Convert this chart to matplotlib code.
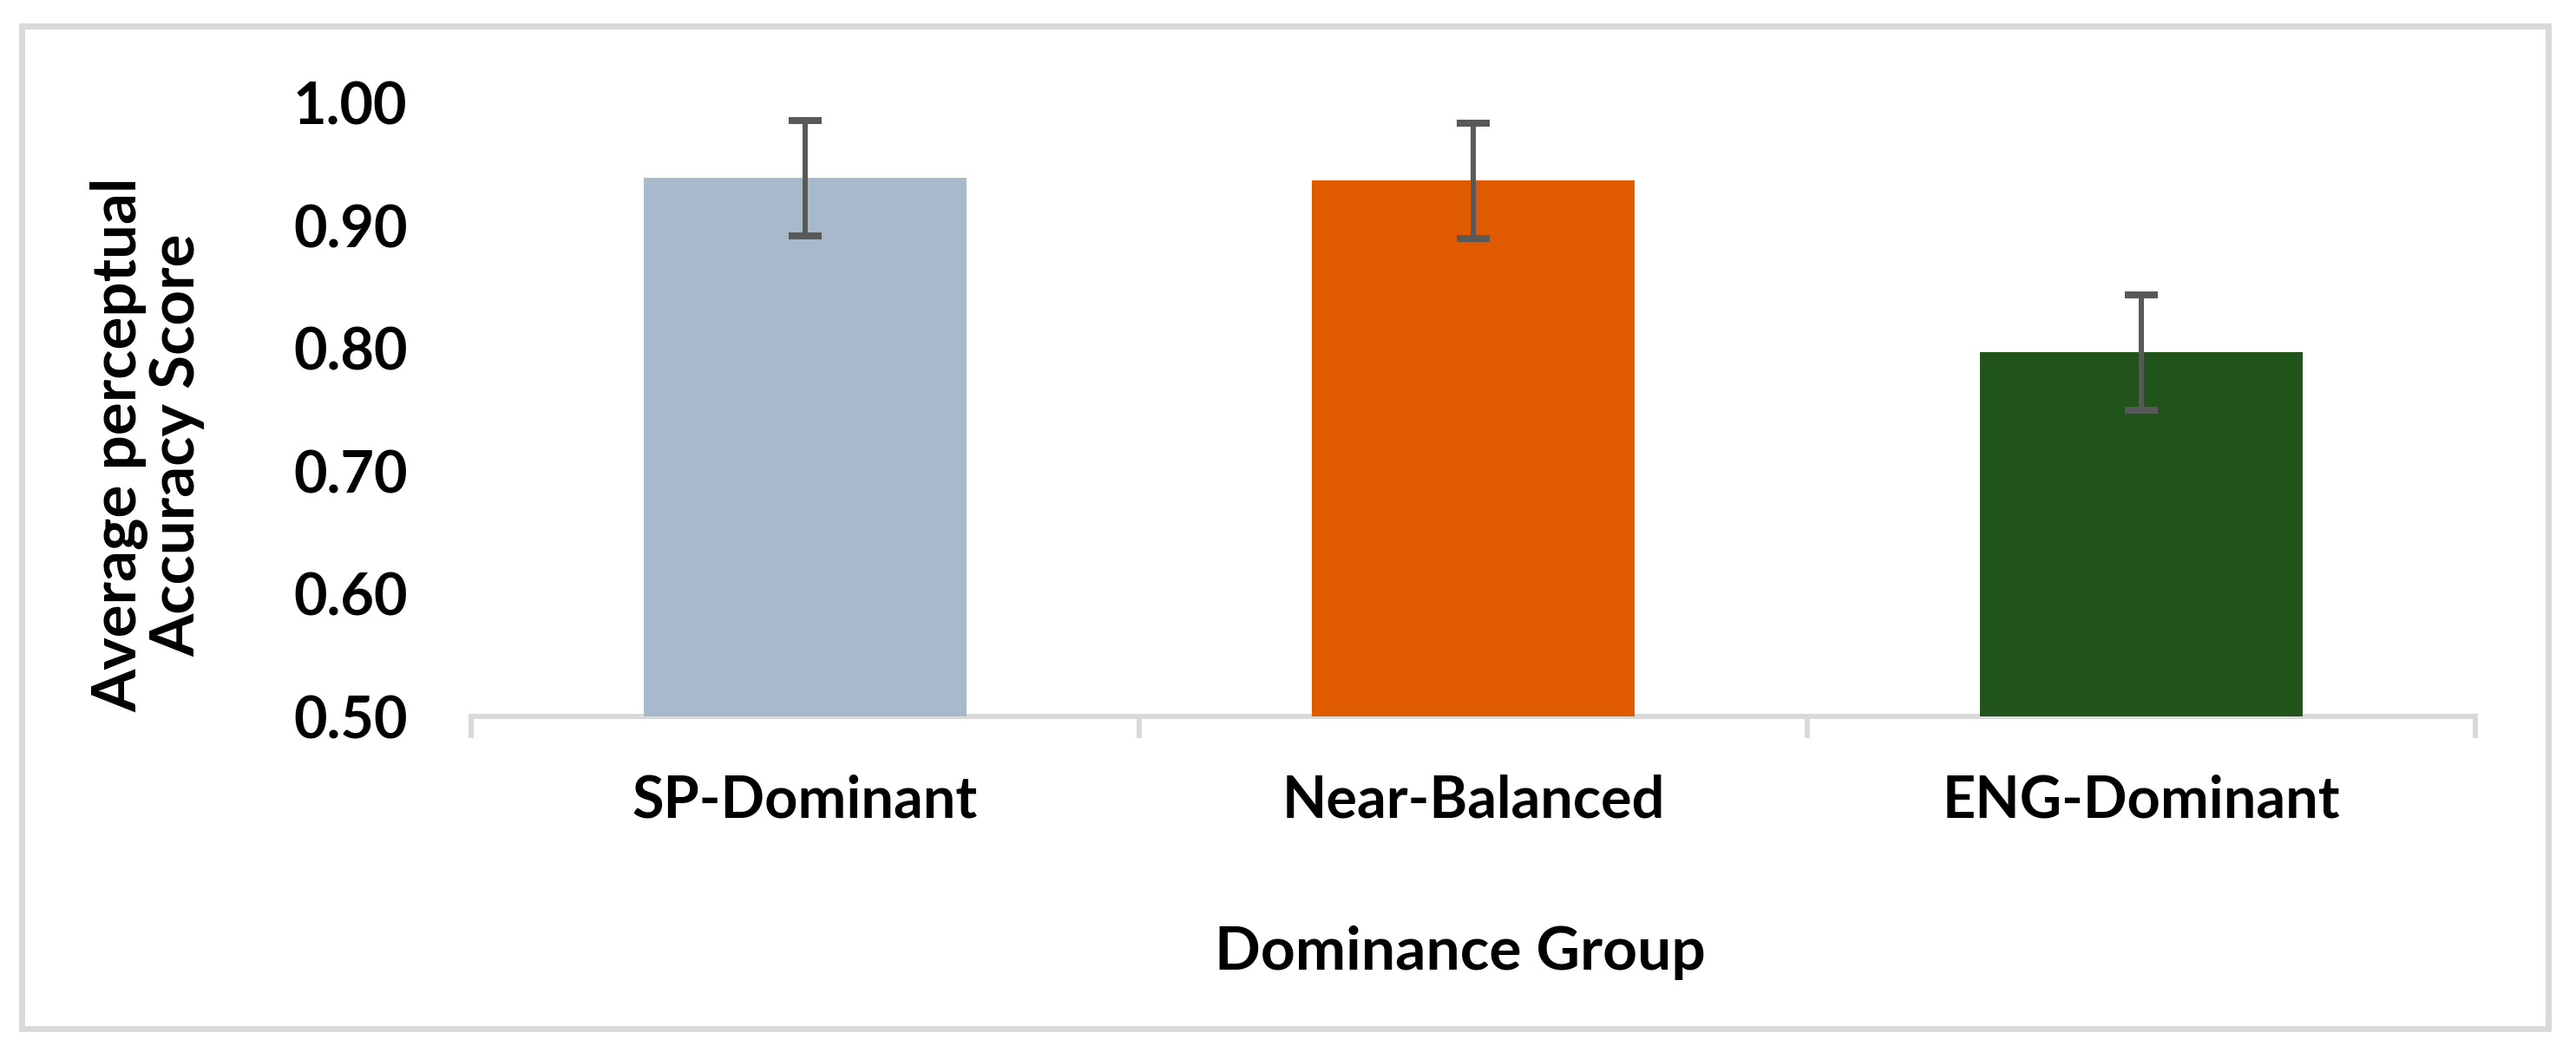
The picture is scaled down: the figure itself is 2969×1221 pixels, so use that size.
import matplotlib
matplotlib.use('Agg')
import matplotlib.pyplot as plt
from matplotlib.patches import Rectangle
import numpy as np

groups = ['SP-Dominant', 'Near-Balanced', 'ENG-Dominant']
mean_accuracy = [0.939, 0.937, 0.797]
error = [0.047, 0.047, 0.047]
bar_colors = ['#A9B9CC', '#E05A00', '#20541A']
y_ticks = [0.50, 0.60, 0.70, 0.80, 0.90, 1.00]

plt.rcParams['font.family'] = ['Lato', 'DejaVu Sans']
plt.rcParams['font.weight'] = 'bold'

W, H = 2969, 1221
fig = plt.figure(figsize=(W / 100, H / 100), dpi=100)

# outer chart border
fig.patches.append(Rectangle((25 / W, 1 - 1186 / H), (2937 - 25) / W, (1186 - 29.5) / H,
                             transform=fig.transFigure, fill=False,
                             edgecolor='#D9D9D9', linewidth=5))

ax = fig.add_axes([543 / W, 1 - 826 / H, (2853 - 543) / W, (826 - 119) / H])
x = np.arange(len(groups))
ax.bar(x, [m - 0.5 for m in mean_accuracy], bottom=0.5, width=0.484, color=bar_colors, zorder=2)
ax.errorbar(x, mean_accuracy, yerr=error, fmt='none', ecolor='#595959',
            elinewidth=4.3, capsize=13.7, capthick=5.8, zorder=3, clip_on=False)

ax.set_xlim(-0.5, 2.5)
ax.set_ylim(0.5, 1.0)
ax.set_yticks(y_ticks)
ax.set_yticklabels([f'{v:.2f}' for v in y_ticks], fontsize=48, fontweight='bold')
ax.set_xticks(x)
ax.set_xticklabels(groups, fontsize=48, fontweight='bold')
ax.set_xticks([-0.5, 0.5, 1.5, 2.5], minor=True)
ax.tick_params(axis='x', which='major', length=0, pad=48)
ax.tick_params(axis='x', which='minor', length=18, width=4.3, color='#D9D9D9', direction='out')
ax.tick_params(axis='y', length=0, pad=53)

for side in ['top', 'right', 'left']:
    ax.spines[side].set_visible(False)
ax.spines['bottom'].set_color('#D9D9D9')
ax.spines['bottom'].set_linewidth(4.3)
ax.spines['bottom'].set_zorder(1)

fig.text(1683 / W, 1 - 1118 / H, 'Dominance Group', fontsize=50, fontweight='bold',
         ha='center', va='baseline')
fig.text(170 / W, 1 - 513 / H, 'Average perceptual\nAccuracy Score', fontsize=51,
         fontweight='bold', rotation=90, ha='center', va='center', linespacing=1.0)

fig.savefig('out.png', dpi=100)
